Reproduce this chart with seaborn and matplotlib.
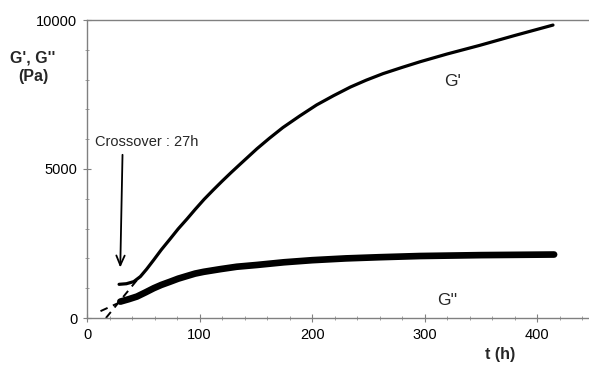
import numpy as np
import pandas as pd
import matplotlib
matplotlib.use("Agg")
import matplotlib.pyplot as plt
from matplotlib.ticker import MultipleLocator
import seaborn as sns

# ---- data ----
t_gp = [28.5, 35, 41.5, 47.4, 53, 59.3, 66, 74, 81, 89, 96, 104, 112, 120, 128, 136, 143.5,
        151, 162, 174, 189, 204, 219, 234, 248, 263, 280, 296, 320, 349, 380, 414]
g_prime = [1130, 1150, 1220, 1390, 1640, 1950, 2290, 2660, 2990, 3330, 3640, 3980, 4290, 4590,
           4880, 5160, 5420, 5680, 6030, 6390, 6780, 7150, 7460, 7750, 7980, 8200, 8410, 8600,
           8860, 9150, 9480, 9830]

t_gpp = [29.6, 37, 44.4, 52, 59.3, 66, 74, 81, 88.9, 96, 103.7, 118.5, 133, 151, 175, 200,
         230, 260, 296, 350, 415]
g_dprime = [550, 630, 720, 860, 1000, 1110, 1220, 1320, 1410, 1490, 1550, 1640, 1720, 1780,
            1870, 1940, 2000, 2040, 2080, 2110, 2130]

# extrapolation (dashed) lines
ext_t_gp = [16.8, 45]
ext_gp = [0, 1300]
ext_t_gpp = [12, 30]
ext_gpp = [230, 540]

x_ticks = [0, 100, 200, 300, 400]
y_ticks = [0, 5000, 10000]
crossover_label = "Crossover : 27h"

sns.set_style("white")
plt.rcParams["font.family"] = ["Liberation Sans", "DejaVu Sans"]

fig = plt.figure(figsize=(5.89, 3.66), dpi=100)
ax = fig.add_axes([87 / 589, 48 / 366, 1 - 87 / 589, 298 / 366])

df1 = pd.DataFrame({"t": t_gp, "G": g_prime})
df2 = pd.DataFrame({"t": t_gpp, "G": g_dprime})
sns.lineplot(data=df1, x="t", y="G", ax=ax, color="black", lw=2.3, sort=True)
sns.lineplot(data=df2, x="t", y="G", ax=ax, color="black", lw=4.8, sort=True)
sns.lineplot(x=ext_t_gp, y=ext_gp, ax=ax, color="black", lw=1.4,
             linestyle=(0, (4, 3)))
sns.lineplot(x=ext_t_gpp, y=ext_gpp, ax=ax, color="black", lw=1.4,
             linestyle=(0, (4, 3)))

ax.set_xlim(0, 446)
ax.set_ylim(0, 10000)
ax.set_xticks(x_ticks)
ax.set_yticks(y_ticks)
ax.xaxis.set_minor_locator(MultipleLocator(20))
ax.yaxis.set_minor_locator(MultipleLocator(1000))
ax.set_xlabel("")
ax.set_ylabel("")

for s in ["left", "bottom", "top"]:
    ax.spines[s].set_color("#808080")
    ax.spines[s].set_linewidth(1.0)
ax.spines["right"].set_visible(False)

ax.tick_params(axis="both", which="both", bottom=True, left=True, top=False, right=False)
ax.tick_params(axis="both", which="major", direction="inout", length=6, width=0.8,
               color="#808080", labelsize=10.5, labelcolor="black", pad=4)
ax.tick_params(axis="both", which="minor", direction="inout", length=3.5, width=0.6,
               color="#909090")

# labels
ax.text(53, 5920, crossover_label, ha="center", va="center", fontsize=10.5)
ax.annotate("", xy=(29.5, 1600), xytext=(31.6, 5570),
            arrowprops=dict(arrowstyle="->,head_length=0.7,head_width=0.3", color="black", lw=1.3))
ax.text(325, 7950, "G'", fontsize=12.5, ha="center", va="center")
ax.text(320, 600, "G''", fontsize=12.5, ha="center", va="center")

fig.text(33 / 589, 1 - 58 / 366, "G', G''", fontsize=11.5, fontweight="bold", ha="center", va="center")
fig.text(33 / 589, 1 - 77 / 366, "(Pa)", fontsize=11.5, fontweight="bold", ha="center", va="center")
fig.text(500 / 589, 1 - 354 / 366, "t (h)", fontsize=11.5, fontweight="bold", ha="center", va="center")

fig.savefig("out.png", dpi=100)
